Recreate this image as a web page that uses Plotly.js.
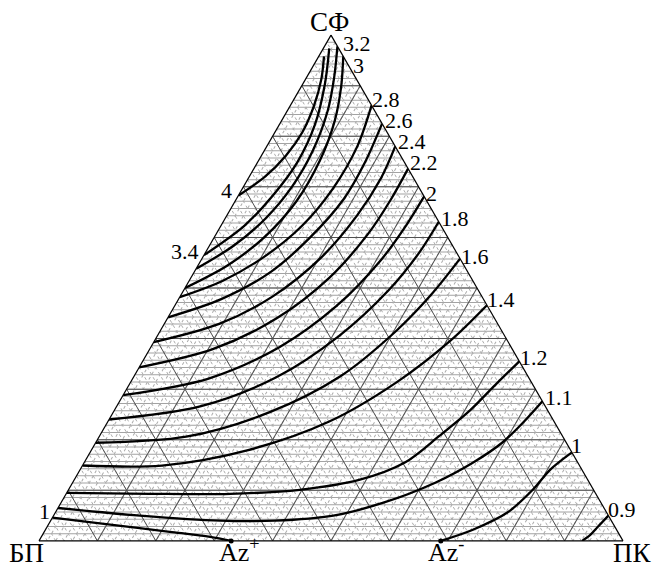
<!DOCTYPE html>
<html>
<head>
<meta charset="utf-8">
<script src="https://cdn.plot.ly/plotly-3.0.1.min.js"></script>
<style>
  html, body { margin: 0; padding: 0; background: #fff; }
  #chart { width: 652px; height: 568px; }
</style>
</head>
<body>
<div id="chart"></div>
<script>
// Isoline levels, one per curve
const levels = [4, 3.4, 3.2, 3, 2.8, 2.6, 2.4, 2.2, 2, 1.8, 1.6, 1.4, 1.2, 1.1, 1, 1, 0.9];

// СФ content, % (apex component), along each isoline
const sfShare = [
  [68.3, 72.0, 76.2, 80.8, 85.9, 91.3, 95.8],
  [56.5, 62.3, 68.3, 74.8, 82.3, 90.3, 97.4],
  [53.8, 58.3, 63.7, 70.0, 77.2, 85.1, 91.7, 97.8],
  [50.0, 54.4, 60.1, 67.1, 75.2, 83.1, 89.9, 95.8],
  [48.2, 51.4, 56.2, 62.3, 69.6, 78.0, 86.1],
  [44.2, 47.8, 53.2, 59.9, 67.7, 74.8, 82.5],
  [39.3, 42.9, 48.4, 56.0, 64.3, 71.8, 78.0],
  [34.3, 37.9, 44.0, 52.0, 60.7, 67.5, 73.6],
  [28.8, 32.1, 38.3, 46.4, 55.6, 62.7, 68.1],
  [24.0, 26.6, 32.3, 40.5, 49.6, 56.9, 63.1],
  [19.4, 20.6, 25.4, 32.5, 41.5, 48.6, 55.8],
  [14.9, 14.9, 17.9, 23.6, 31.3, 39.7, 46.6],
  [9.5, 9.3, 9.3, 10.1, 12.1, 15.5, 20.8, 25.8, 30.8, 35.5],
  [6.5, 5.0, 4.0, 4.0, 5.0, 7.5, 11.5, 15.5, 19.4, 23.4, 27.6],
  [4.6, 3.2, 1.8, 0.8, 0],
  [0, 2.2, 5.6, 10.1, 14.1, 17.5],
  [5.0, 2.8, 1.2, 0]
];

// ПК content, % (bottom-right component), along each isoline
const pkShare = [
  [0, 2.7, 4.2, 4.7, 4.1, 2.7, 0.9],
  [0, 4.0, 5.9, 6.8, 6.1, 3.8, 1.0],
  [0, 4.1, 6.9, 8.3, 8.3, 6.9, 4.7, 2.2],
  [0, 5.0, 8.6, 10.5, 10.5, 9.1, 6.8, 4.2],
  [0, 5.7, 10.5, 13.9, 15.5, 15.5, 13.9],
  [0, 7.3, 13.1, 16.4, 18.4, 18.4, 17.5],
  [0, 9.4, 15.9, 20.3, 22.3, 22.7, 22.0],
  [0, 10.8, 18.7, 23.7, 26.0, 26.5, 26.4],
  [0, 13.0, 22.0, 27.7, 30.8, 31.7, 31.9],
  [0, 14.3, 24.4, 31.1, 35.1, 36.6, 36.9],
  [0, 14.9, 26.7, 35.3, 40.4, 42.8, 44.2],
  [0, 13.6, 26.7, 37.9, 45.5, 50.7, 53.4],
  [0, 14.4, 28.1, 39.6, 48.9, 54.9, 58.2, 60.9, 62.7, 64.5],
  [0, 14.8, 29.0, 38.4, 47.9, 55.1, 62.1, 66.6, 69.6, 71.2, 72.4],
  [0, 10.6, 21.5, 28.9, 32.9],
  [68.8, 73.2, 77.4, 79.5, 80.5, 82.5],
  [95.0, 94.3, 93.8, 93.0]
];

// Azeotropes on the БП–ПК side (ПК %, СФ = 0)
const azeoNames = ['Az<sup>+</sup>', 'Az<sup>-</sup>'];
const azeoPK = [32.9, 68.8];
const azeoSF = [0, 0];

// Vertex names
const vertexNames = ['СФ', 'БП', 'ПК'];

// ---- layout helpers -------------------------------------------------------
const W = 652, H = 568;
const M = { l: 39, r: 29, t: 35, b: 27 };
const PW = W - M.l - M.r, PH = H - M.t - M.b;
const px2paper = (x, y) => [(x - M.l) / PW, (H - M.b - y) / PH];

const serif = 'Liberation Serif, Times New Roman, serif';

// where each isoline's value is written: [curve index, x px, y px]
const labelSpots = [
  [0, 226, 190], [1, 185, 252], [14, 44, 511],
  [2, 357, 43], [3, 358, 66], [4, 386, 99], [5, 399, 120], [6, 412, 141],
  [7, 424, 162], [8, 431, 193], [9, 455, 218], [10, 475, 256], [11, 501, 299],
  [12, 534, 357], [13, 559, 397], [15, 576, 445], [16, 622, 509]
];
// centres of the vertex and azeotrope names
const vertexSpots = [[329, 22], [26, 553], [632, 553]];
const azeoSpots = [[239, 550], [446, 550]];

// ---- traces ---------------------------------------------------------------
const traces = [];

// azeotrope dots
traces.push({
  type: 'scatterternary', subplot: 'ternary', mode: 'markers',
  a: azeoSF, c: azeoPK,
  marker: { color: '#000', size: 5 },
  hoverinfo: 'skip', cliponaxis: false
});

levels.forEach((lv, i) => {
  traces.push({
    type: 'scatterternary', subplot: 'ternary2', mode: 'lines',
    name: String(lv),
    a: sfShare[i], c: pkShare[i],
    line: { color: '#000', width: 2.3, shape: 'spline', smoothing: 0.9 },
    hoverinfo: 'skip', cliponaxis: false
  });
});

// ---- axes -----------------------------------------------------------------
// fine grid: seven steps inside every 10 % cell
const fineStep = 10 / 7;
function fineAxis(dash, color) {
  return {
    showgrid: true, gridcolor: color, gridwidth: 1, griddash: dash,
    dtick: fineStep, tick0: 0, showline: false, showticklabels: false, ticks: '',
    title: { text: '' }
  };
}
function mainAxis() {
  return {
    showgrid: true, gridcolor: '#505050', gridwidth: 1,
    dtick: 10, tick0: 0, showline: true, linecolor: '#000', linewidth: 1.2,
    showticklabels: false, ticks: '', title: { text: '' }
  };
}

const annotations = [];
labelSpots.forEach(([i, x, y]) => {
  const [px, py] = px2paper(x, y);
  annotations.push({
    xref: 'paper', yref: 'paper', x: px, y: py, xanchor: 'center', yanchor: 'middle',
    text: String(levels[i]), showarrow: false,
    font: { family: serif, size: 22, color: '#000' }
  });
});
vertexNames.forEach((t, k) => {
  const [px, py] = px2paper(vertexSpots[k][0], vertexSpots[k][1]);
  annotations.push({
    xref: 'paper', yref: 'paper', x: px, y: py, xanchor: 'center', yanchor: 'middle',
    text: t, showarrow: false, font: { family: serif, size: 27, color: '#000' }
  });
});
azeoNames.forEach((t, k) => {
  const [px, py] = px2paper(azeoSpots[k][0], azeoSpots[k][1]);
  annotations.push({
    xref: 'paper', yref: 'paper', x: px, y: py, xanchor: 'center', yanchor: 'middle',
    text: t, showarrow: false, font: { family: serif, size: 26, color: '#000' }
  });
});

const layout = {
  width: W, height: H,
  margin: M,
  paper_bgcolor: '#fff',
  showlegend: false,
  ternary: {
    domain: { x: [0, 1], y: [0, 1] }, sum: 100, bgcolor: '#fff',
    aaxis: fineAxis('solid', '#a3a3a3'),
    baxis: fineAxis('dot', '#acacac'),
    caxis: fineAxis('dot', '#acacac')
  },
  ternary2: {
    domain: { x: [0, 1], y: [0, 1] }, sum: 100, bgcolor: 'rgba(0,0,0,0)',
    aaxis: mainAxis(), baxis: mainAxis(), caxis: mainAxis()
  },
  annotations: annotations
};

Plotly.newPlot('chart', traces, layout, { staticPlot: true, displayModeBar: false });
</script>
</body>
</html>
